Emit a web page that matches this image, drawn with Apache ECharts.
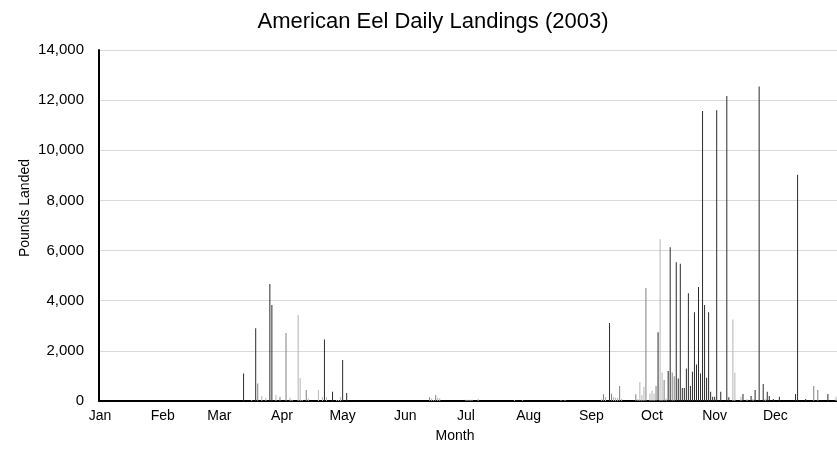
<!DOCTYPE html>
<html>
<head>
<meta charset="utf-8">
<script src="https://cdn.jsdelivr.net/npm/echarts@6/dist/echarts.min.js"></script>
<style>
  html, body { margin: 0; padding: 0; background: #fff; }
  #chart { width: 837px; height: 456px; }
</style>
</head>
<body>
<div id="chart"></div>
<script>
// day-of-year index (Jan 1 = 0) for each month start, and its label
const monthStarts = [0, 31, 59, 90, 120, 151, 181, 212, 243, 273, 304, 334];
const monthNames = ['Jan', 'Feb', 'Mar', 'Apr', 'May', 'Jun', 'Jul', 'Aug', 'Sep', 'Oct', 'Nov', 'Dec'];

// landings, split by bar shade
const darkDays = [71, 77, 84, 85, 111, 115, 120, 122, 252, 276, 281, 282, 285, 286, 287, 288, 289, 290, 291, 292, 293, 294, 295, 296, 297, 298, 299, 300, 301, 302, 303, 304, 305, 307, 310, 311, 318, 322, 324, 326, 328, 330, 331, 333, 336, 344, 345, 349, 360];
const darkLbs = [1100, 2900, 4670, 3830, 2450, 370, 1640, 320, 3110, 2740, 1200, 6130, 5530, 900, 5470, 520, 520, 1300, 4300, 600, 1170, 3540, 1460, 4550, 1100, 11570, 3830, 930, 3540, 370, 170, 170, 11600, 370, 12170, 150, 280, 200, 440, 12540, 680, 370, 200, 80, 170, 280, 9020, 80, 280];

const midDays = [78, 89, 92, 102, 163, 166, 249, 253, 257, 265, 270, 275, 279, 283, 284, 353, 355];
const midLbs = [700, 160, 2710, 440, 150, 230, 270, 290, 600, 270, 4510, 600, 840, 1140, 990, 600, 440];

const lightDays = [75, 80, 82, 87, 94, 95, 98, 99, 100, 103, 108, 110, 112, 117, 118, 119, 164, 165, 167, 168, 181, 182, 183, 184, 187, 205, 209, 228, 230, 248, 250, 254, 255, 256, 258, 266, 267, 268, 269, 272, 273, 274, 277, 278, 280, 313, 314, 317, 320, 323, 329, 364];
const lightLbs = [40, 200, 130, 240, 130, 50, 3430, 920, 40, 100, 440, 160, 160, 40, 40, 160, 100, 40, 130, 110, 50, 50, 50, 50, 90, 40, 40, 40, 40, 60, 160, 160, 130, 130, 90, 80, 760, 230, 570, 300, 410, 300, 6450, 1140, 100, 3250, 1140, 170, 80, 80, 80, 170];

const yMax = 14000;
const yStep = 2000;

const days = Array.from({ length: 365 }, (_, i) => String(i));

function spread(dayList, lbs) {
    const arr = new Array(365).fill('-');
    dayList.forEach((d, i) => { arr[d] = lbs[i]; });
    return arr;
}

const font = "'Liberation Sans', Arial, sans-serif";
const chart = echarts.init(document.getElementById('chart'));

chart.setOption({
    animation: false,
    title: {
        text: 'American Eel Daily Landings (2003)',
        left: 428,
        top: 6,
        textAlign: 'center',
        textStyle: { fontFamily: font, fontSize: 22, fontWeight: 'normal', color: '#000' }
    },
    grid: { left: 99, right: -3, top: 50, bottom: 55 },
    xAxis: [
        {
            type: 'category',
            data: days,
            axisLine: { lineStyle: { color: '#000', width: 2 } },
            axisTick: { interval: 0, length: 3, lineStyle: { color: '#000', width: 1 } },
            axisLabel: {
                interval: (i) => monthStarts.includes(i),
                formatter: (v, i) => monthNames[monthStarts.indexOf(i)],
                margin: 8,
                fontFamily: font,
                fontSize: 14,
                color: '#000'
            }
        },
        {
            type: 'category',
            data: days,
            position: 'bottom',
            axisLine: { show: false },
            axisTick: { interval: (i) => monthStarts.includes(i), inside: true, length: 5, lineStyle: { color: '#000', width: 1.5 } },
            axisLabel: { show: false }
        }
    ],
    yAxis: {
        type: 'value',
        min: 0,
        max: yMax,
        interval: yStep,
        axisLine: { show: true, lineStyle: { color: '#000', width: 2 } },
        axisTick: { show: false },
        splitLine: { lineStyle: { color: '#d9d9d9', width: 1 } },
        axisLabel: {
            margin: 15,
            fontFamily: font,
            fontSize: 15,
            color: '#000',
            formatter: (v) => v.toLocaleString('en-US')
        }
    },
    graphic: [
        {
            type: 'text',
            left: 18,
            top: 159,
            rotation: Math.PI / 2,
            style: { text: 'Pounds Landed', font: '14px ' + font, fill: '#000' }
        },
        {
            type: 'text',
            x: 455,
            y: 429,
            style: { text: 'Month', font: '14px ' + font, fill: '#000', align: 'center' }
        }
    ],
    series: [
        { name: 'dark', type: 'bar', stack: 'all', barWidth: 1, data: spread(darkDays, darkLbs), itemStyle: { color: '#2b2b2b' } },
        { name: 'mid', type: 'bar', stack: 'all', barWidth: 1, data: spread(midDays, midLbs), itemStyle: { color: '#808080' } },
        { name: 'light', type: 'bar', stack: 'all', barWidth: 1, data: spread(lightDays, lightLbs), itemStyle: { color: '#b5b5b5' } }
    ]
});
</script>
</body>
</html>
